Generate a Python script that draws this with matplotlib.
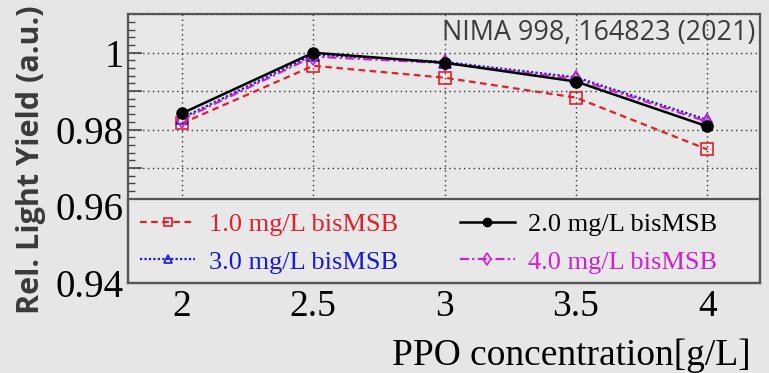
import matplotlib
matplotlib.use("Agg")
import matplotlib.pyplot as plt
from matplotlib.ticker import MultipleLocator, FuncFormatter
from matplotlib.patches import Rectangle

ppo = [2.0, 2.5, 3.0, 3.5, 4.0]
ly_1mg = [0.9816, 0.9966, 0.9935, 0.9883, 0.9748]
ly_2mg = [0.9842, 1.0000, 0.9974, 0.9925, 0.9808]
ly_3mg = [0.9830, 0.9995, 0.9976, 0.9936, 0.9825]
ly_4mg = [0.9826, 0.9990, 0.9973, 0.9932, 0.9820]
labels = ["1.0 mg/L bisMSB", "2.0 mg/L bisMSB", "3.0 mg/L bisMSB", "4.0 mg/L bisMSB"]
xticks = [2, 2.5, 3, 3.5, 4]
xtick_labels = ["2", "2.5", "3", "3.5", "4"]
ytick_labelled = {0.94: "0.94", 0.96: "0.96", 0.98: "0.98", 1.00: "1"}

serif = ["Liberation Serif", "DejaVu Serif"]
bg = "#e6e6e6"

fig = plt.figure(figsize=(7.69, 3.73), dpi=100, facecolor=bg)
ax = fig.add_axes([128/769, 1-283/373, (760-128)/769, (283-14)/373])
ax.set_facecolor("#e8e8e8")

ax.plot(ppo, ly_1mg, color="#e0202a", ls=(0, (3, 2)), lw=1.6, marker="s", ms=8,
        mfc="none", mec="#e0202a", mew=1.2, label=labels[0], zorder=3)
ax.plot(ppo, ly_2mg, color="black", ls="-", lw=1.8, marker="o", ms=8,
        mfc="black", mec="black", label=labels[1], zorder=4)
ax.plot(ppo, ly_3mg, color="#1a1ad0", ls=(0, (1, 1)), lw=1.6, marker="^", ms=8,
        mfc="none", mec="#1a1ad0", mew=1.2, label=labels[2], zorder=3)
ax.plot(ppo, ly_4mg, color="#d020d0", ls=(0, (4, 1.5, 1, 1.5)), lw=1.6, marker="d", ms=8,
        mfc="none", mec="#d020d0", mew=1.2, label=labels[3], zorder=3)

ax.set_xlim(1.795, 4.2)
ax.set_ylim(0.94, 1.0101)
ax.set_xticks(xticks)
ax.set_xticklabels(xtick_labels)
ax.yaxis.set_major_locator(MultipleLocator(0.01))
ax.yaxis.set_minor_locator(MultipleLocator(0.002))

def yfmt(v, pos):
    for k, s in ytick_labelled.items():
        if abs(v - k) < 1e-6:
            return s
    return ""
ax.yaxis.set_major_formatter(FuncFormatter(yfmt))

ax.grid(True, which="major", color="#333333", ls=(0, (1, 2.5)), lw=1.0)
ax.tick_params(axis="y", which="major", direction="in", length=10, width=1.2,
               color="#444444", labelsize=28, pad=3)
ax.tick_params(axis="y", which="minor", direction="in", length=5, width=1.0, color="#444444")
ax.tick_params(axis="x", which="major", direction="in", length=0, labelsize=27, pad=5)
for lab in ax.get_xticklabels() + ax.get_yticklabels():
    lab.set_fontfamily(serif)
for sp in ax.spines.values():
    sp.set_color("#555555")
    sp.set_linewidth(1.6)
    sp.set_zorder(9)

ax.set_xlabel("PPO concentration[g/L]", fontsize=27, family=serif, ha="right",
              va="bottom", labelpad=0)
ax.xaxis.set_label_coords(0.985, -0.333)

fig.text(0.040, 1-160/373, "Rel. Light Yield (a.u.)", rotation=90, fontsize=22,
         fontweight="bold", family=["Open Sans", "DejaVu Sans"], color="#3a3a3a",
         ha="center", va="center")

ax.text(0.993, 0.93, "NIMA 998, 164823 (2021)", transform=ax.transAxes,
        fontsize=19.4, family=["Open Sans", "DejaVu Sans"], color="#3c3c3c",
        ha="right", va="center", zorder=6)

# legend box
box_h = (283-199)/269
ax.add_patch(Rectangle((0, 0), 1, box_h, transform=ax.transAxes, facecolor="#e8e8e8",
                       edgecolor="#555555", lw=1.6, zorder=7, clip_on=False))

handles, lbls = ax.get_legend_handles_labels()
order = [0, 2, 1, 3]
leg = ax.legend([handles[i] for i in order], [lbls[i] for i in order], ncol=2,
                loc="center left", bbox_to_anchor=(12/632, (283-243)/269),
                prop={"family": serif, "size": 19}, labelcolor="linecolor",
                frameon=False, handlelength=2.1, handletextpad=0.5, borderaxespad=0,
                columnspacing=2.35, labelspacing=0.55, borderpad=0, markerscale=0.75)
leg.set_zorder(8)

fig.savefig("out.png", dpi=100, facecolor=bg)
